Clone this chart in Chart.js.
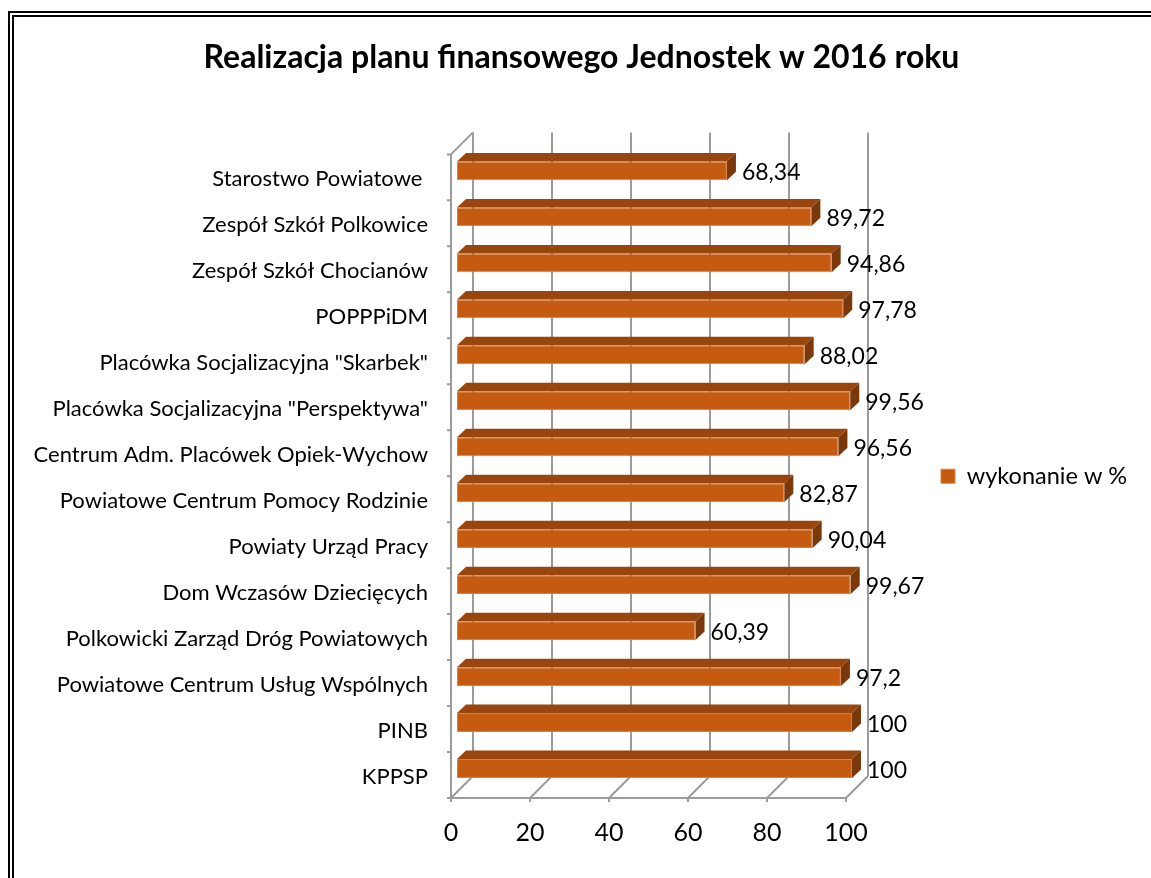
<!DOCTYPE html>
<html>
<head>
<meta charset="utf-8">
<script src="https://cdn.jsdelivr.net/npm/chart.js@4.4.1/dist/chart.umd.min.js"></script>
<style>
  html, body { margin: 0; padding: 0; overflow: hidden; background: #fff; }
  #wrap { position: relative; width: 1151px; height: 878px; }
  #frame { position: absolute; left: 8px; top: 11px; width: 1200px; height: 900px;
           border: 6px double #000; pointer-events: none; }
</style>
</head>
<body>
<div id="wrap">
  <canvas id="myChart" width="1151" height="878"></canvas>
  <div id="frame"></div>
</div>
<script>
const units = [
    'Starostwo Powiatowe ',
    'Zespół Szkół Polkowice',
    'Zespół Szkół Chocianów',
    'POPPPiDM',
    'Placówka Socjalizacyjna "Skarbek"',
    'Placówka Socjalizacyjna "Perspektywa"',
    'Centrum Adm. Placówek Opiek-Wychow',
    'Powiatowe Centrum Pomocy Rodzinie',
    'Powiaty Urząd Pracy',
    'Dom Wczasów Dziecięcych',
    'Polkowicki Zarząd Dróg Powiatowych',
    'Powiatowe Centrum Usług Wspólnych',
    'PINB',
    'KPPSP'
]
const percent = [68.34, 89.72, 94.86, 97.78, 88.02, 99.56, 96.56, 82.87, 90.04, 99.67, 60.39, 97.2, 100, 100]
const xTicks = [0, 20, 40, 60, 80, 100]

const FONT = 'Lato'
const depth = { dx: 22, dy: -22 }      // back wall offset
const barShift = { dx: 6, dy: -6.5 }   // bar front face inside the box
const barDepth = { dx: 9, dy: -8.5 }   // bar thickness in depth

const fmt = v => String(v).replace('.', ',')

// walls, floor and gridlines of the 3d box
const walls3d = {
    id: 'walls3d',
    beforeDatasetsDraw(chart) {
        const { ctx, chartArea: a, scales: { x, y } } = chart
        ctx.save()
        ctx.strokeStyle = '#9b9b9b'
        ctx.lineWidth = 2
        ctx.beginPath()
        xTicks.forEach(v => {
            const px = x.getPixelForValue(v)
            ctx.moveTo(px + depth.dx, a.top + depth.dy)
            ctx.lineTo(px + depth.dx, a.bottom + depth.dy)
            ctx.moveTo(px, a.bottom)
            ctx.lineTo(px + depth.dx, a.bottom + depth.dy)
            ctx.moveTo(px, a.bottom)
            ctx.lineTo(px, a.bottom + 4)
        })
        const x0 = x.getPixelForValue(xTicks[0])
        const x1 = x.getPixelForValue(xTicks[xTicks.length - 1])
        ctx.moveTo(x0, a.bottom)
        ctx.lineTo(x1, a.bottom)
        ctx.moveTo(x0, a.bottom)
        ctx.lineTo(x0, a.top)
        ctx.lineTo(x0 + depth.dx, a.top + depth.dy)
        for (let i = 0; i <= units.length; i++) {
            const py = y.getPixelForValue(i - 0.5)
            ctx.moveTo(x0 - 4, py)
            ctx.lineTo(x0, py)
        }
        ctx.stroke()
        ctx.restore()
    },
    beforeDatasetDraw(chart) {
        chart.ctx.save()
        chart.ctx.translate(barShift.dx, barShift.dy)
    },
    afterDatasetDraw(chart, args) {
        const ctx = chart.ctx
        const meta = args.meta
        meta.data.forEach(bar => {
            const t = bar.y - bar.height / 2
            const b = bar.y + bar.height / 2
            // top face
            ctx.fillStyle = '#98450E'
            ctx.beginPath()
            ctx.moveTo(bar.base, t)
            ctx.lineTo(bar.x, t)
            ctx.lineTo(bar.x + barDepth.dx, t + barDepth.dy)
            ctx.lineTo(bar.base + barDepth.dx, t + barDepth.dy)
            ctx.closePath()
            ctx.fill()
            // right face
            ctx.fillStyle = '#7B380B'
            ctx.beginPath()
            ctx.moveTo(bar.x, t)
            ctx.lineTo(bar.x + barDepth.dx, t + barDepth.dy)
            ctx.lineTo(bar.x + barDepth.dx, b + barDepth.dy)
            ctx.lineTo(bar.x, b)
            ctx.closePath()
            ctx.fill()
        })
        // value labels
        ctx.fillStyle = '#000'
        ctx.font = '23px ' + FONT
        ctx.textAlign = 'left'
        ctx.textBaseline = 'middle'
        meta.data.forEach((bar, i) => {
            ctx.fillText(fmt(percent[i]), bar.x + barDepth.dx + 6, bar.y + 2)
        })
        ctx.restore()
    }
}

const ctx = document.getElementById('myChart')
const chartData = {
    type: 'bar',
    data: {
        labels: units,
        datasets: [{
            label: 'wykonanie w %',
            data: percent,
            backgroundColor: '#C55A11',
            borderColor: '#D98048',
            borderWidth: 1,
            borderSkipped: false,
            categoryPercentage: 1,
            barPercentage: 0.41,
            clip: false
        }]
    },
    options: {
        indexAxis: 'y',
        responsive: false,
        animation: false,
        layout: { padding: { left: 28, right: 16, top: 0, bottom: 0 } },
        scales: {
            x: {
                min: 0,
                max: 100,
                afterBuildTicks: s => { s.ticks = xTicks.map(v => ({ value: v })) },
                afterFit: s => { s.height = 80 },
                grid: { display: false, drawTicks: false },
                border: { display: false },
                ticks: { color: '#000', padding: 20, font: { family: FONT, size: 25 } }
            },
            y: {
                afterFit: s => { s.width = 423 },
                grid: { display: false, drawTicks: false },
                border: { display: false },
                ticks: { color: '#000', padding: 23, labelOffset: 2, font: { family: FONT, size: 22 } }
            }
        },
        plugins: {
            title: {
                display: true,
                text: 'Realizacja planu finansowego Jednostek w 2016 roku',
                color: '#000',
                font: { family: FONT, size: 32, weight: 'bold', lineHeight: 1.2 },
                padding: { top: 38, bottom: 78 }
            },
            legend: {
                position: 'right',
                fullSize: false,
                maxWidth: 289,
                labels: {
                    color: '#000',
                    boxWidth: 14,
                    boxHeight: 14,
                    padding: 95,
                    font: { family: FONT, size: 23.5 }
                }
            },
            tooltip: { enabled: false }
        }
    },
    plugins: [walls3d]
}
const myChart = new Chart(ctx, chartData)
</script>
</body>
</html>
